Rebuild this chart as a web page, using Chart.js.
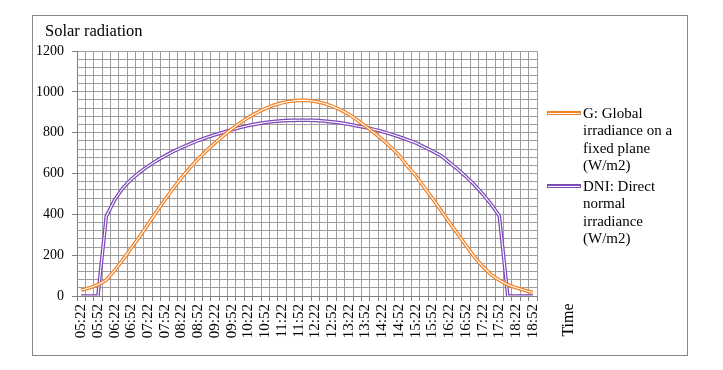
<!DOCTYPE html>
<html>
<head>
<meta charset="utf-8">
<script src="https://cdn.jsdelivr.net/npm/chart.js@4.4.1/dist/chart.umd.min.js"></script>
<style>
  body { margin: 0; background: #fff; }
  #wrap { position: relative; width: 723px; height: 370px; font-family: "Liberation Serif", "Times New Roman", serif; color: #000; }
  #chart { position: absolute; left: 0; top: 0; }
  #frame { position: absolute; left: 32px; top: 15px; width: 656px; height: 341px; border: 1px solid #8a8a8a; box-sizing: border-box; }
  #title { position: absolute; left: 45px; top: 22px; font-size: 16.5px; line-height: 18px; white-space: nowrap; }
  #xtitle { position: absolute; left: 538px; top: 310px; width: 60px; line-height: 20px; text-align: center; font-size: 16px; transform: rotate(-90deg); }
  .item { position: absolute; left: 547px; }
  .swatch { position: absolute; left: 0; top: 6px; width: 34px; height: 4px; }
  .swatch div { position: absolute; left: 1px; right: 1px; top: 1.5px; height: 1px; background: #fff; }
  .text { position: absolute; left: 36px; width: 98px; font-size: 15px; line-height: 17.4px; }
</style>
</head>
<body>
<div id="wrap">
  <div id="frame"></div>
  <canvas id="chart" width="723" height="370"></canvas>
  <div id="title">Solar radiation</div>
  <div id="xtitle">Time</div>
  <div id="legend"></div>
</div>
<script>
// time stamps, every 15 min
const times = ["05:22","05:37","05:52","06:07","06:22","06:37","06:52","07:07","07:22","07:37",
  "07:52","08:07","08:22","08:37","08:52","09:07","09:22","09:37","09:52","10:07",
  "10:22","10:37","10:52","11:07","11:22","11:37","11:52","12:07","12:22","12:37",
  "12:52","13:07","13:22","13:37","13:52","14:07","14:22","14:37","14:52","15:07",
  "15:22","15:37","15:52","16:07","16:22","16:37","16:52","17:07","17:22","17:37",
  "17:52","18:07","18:22","18:37","18:52"];

// G: global irradiance on a fixed plane (W/m2)
const globalG = [28, 40, 55, 78, 125, 178, 235, 292, 352, 412,
  470, 527, 580, 628, 672, 712, 750, 785, 818, 848,
  875, 898, 918, 934, 946, 954, 958, 958, 953, 944,
  930, 912, 890, 862, 832, 800, 767, 730, 690, 636,
  590, 533, 478, 420, 362, 305, 248, 192, 145, 105,
  77, 55, 40, 28, 17];

// DNI: direct normal irradiance (W/m2)
const dni = [0, 0, 0, 390, 470, 530, 572, 606, 636, 662,
  686, 708, 727, 745, 762, 776, 790, 802, 814, 825,
  835, 843, 850, 855, 858, 860, 861, 861, 860, 857,
  853, 848, 841, 833, 825, 816, 806, 793, 780, 765,
  750, 730, 710, 688, 655, 622, 585, 545, 500, 450,
  392, 0, 0, 0, 0];

const seriesNames = ["G: Global irradiance on a fixed plane (W/m2)", "DNI: Direct normal irradiance (W/m2)"];
const seriesColors = ["#f28226", "#7d4ab8"];

const yMin = 0, yMax = 1200, yMinor = 40, yMajor = 200;

const gridColor = "#9e9e9e";
const axisColor = "#7f7f7f";

// html legend
const legendTops = [105, 178];
const legend = document.getElementById("legend");
seriesNames.forEach((name, i) => {
    const item = document.createElement("div");
    item.className = "item";
    item.style.top = legendTops[i] + "px";
    const sw = document.createElement("div");
    sw.className = "swatch";
    sw.style.background = seriesColors[i];
    sw.appendChild(document.createElement("div"));
    const tx = document.createElement("div");
    tx.className = "text";
    tx.textContent = name;
    item.appendChild(sw);
    item.appendChild(tx);
    legend.appendChild(item);
});

function outline(data, color, order) {
    return {
        data: data,
        borderColor: color,
        borderWidth: 3.6,
        pointRadius: 0,
        tension: 0,
        fill: false,
        order: order
    };
}
function inner(data, order) {
    return {
        data: data,
        borderColor: "#ffffff",
        borderWidth: 1.1,
        pointRadius: 0,
        tension: 0,
        fill: false,
        order: order
    };
}

const ctx = document.getElementById('chart').getContext('2d');
new Chart(ctx, {
    type: 'line',
    data: {
        labels: times,
        datasets: [
            inner(globalG, 1),
            outline(globalG, seriesColors[0], 2),
            inner(dni, 3),
            outline(dni, seriesColors[1], 4)
        ]
    },
    options: {
        responsive: false,
        animation: false,
        devicePixelRatio: 1,
        layout: { padding: { left: 0, top: 51, right: 186, bottom: 0 } },
        scales: {
            x: {
                offset: true,
                afterFit: (scale) => { scale.height = 74; },
                grid: { offset: true, color: gridColor, tickLength: 5, tickColor: axisColor },
                border: { color: axisColor },
                ticks: {
                    autoSkip: false,
                    maxRotation: 90,
                    minRotation: 90,
                    padding: 3,
                    color: '#000',
                    font: { family: 'Liberation Serif', size: 15 },
                    callback: (v, i) => i % 2 === 0 ? times[i] : ''
                }
            },
            y: {
                min: yMin,
                max: yMax,
                afterFit: (scale) => { scale.width = 77; },
                grid: {
                    color: gridColor,
                    tickLength: 5,
                    tickColor: (c) => (c.tick && c.tick.value % yMajor === 0) ? axisColor : 'rgba(0,0,0,0)'
                },
                border: { color: axisColor },
                ticks: {
                    stepSize: yMinor,
                    autoSkip: false,
                    padding: 8,
                    color: '#000',
                    font: { family: 'Liberation Serif', size: 14 },
                    callback: (v) => v % yMajor === 0 ? v : ''
                }
            }
        },
        plugins: {
            legend: { display: false },
            tooltip: { enabled: false }
        }
    }
});
</script>
</body>
</html>
